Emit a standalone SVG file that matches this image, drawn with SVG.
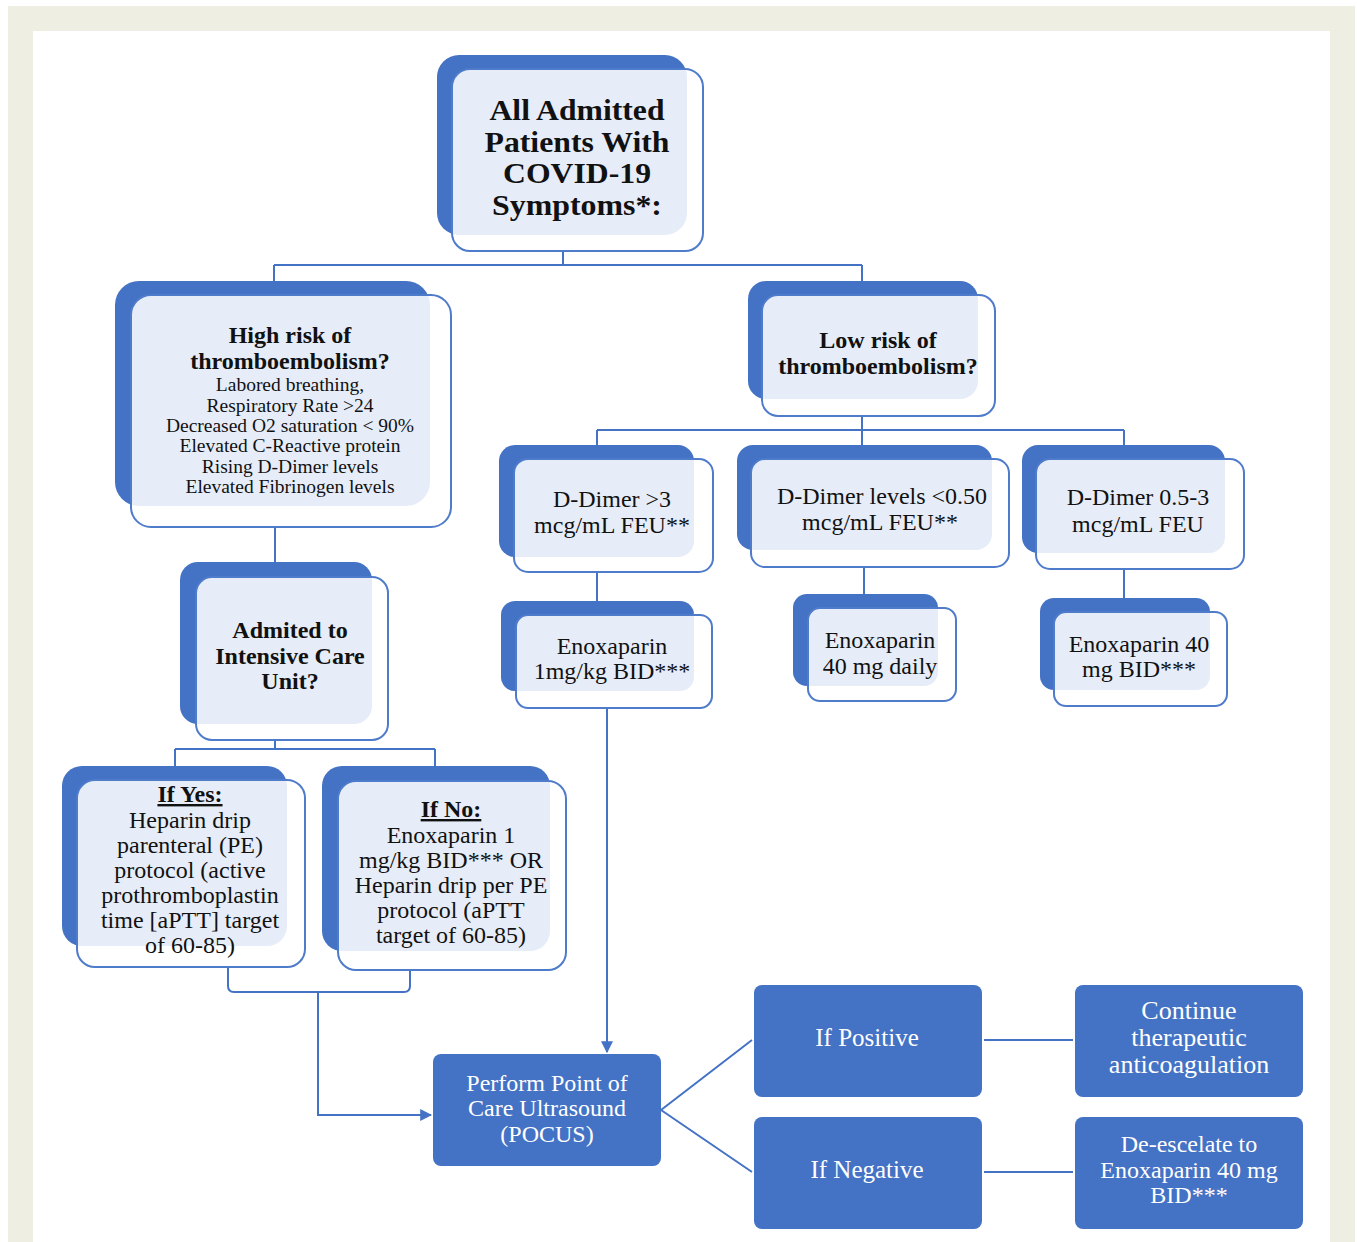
<svg xmlns="http://www.w3.org/2000/svg" width="1357" height="1242" viewBox="0 0 1357 1242">
<style>
.back{fill:#4472C4}
.front{fill:#ffffff;fill-opacity:0.87;stroke:#4F7BCB;stroke-width:2}
.t{font-family:"Liberation Serif","Times New Roman",serif;fill:#111;text-anchor:middle}
.b{font-weight:bold}
.w{fill:#ffffff}
.solid{fill:#4472C4}
.c{fill:none;stroke:#4472C4;stroke-width:2}
</style>
<defs>
<marker id="arr" viewBox="0 0 10 10" refX="9" refY="5" markerWidth="6" markerHeight="6" orient="auto" markerUnits="strokeWidth">
<path d="M0,0 L10,5 L0,10 z" fill="#4472C4"/>
</marker>
</defs>
<rect x="0" y="0" width="1357" height="1242" fill="#ffffff"/>
<rect x="8" y="6" width="1347" height="1236" fill="#EEEEE2"/>
<rect x="33" y="31" width="1297" height="1211" fill="#ffffff"/>

<g id="connectors">
<path class="c" d="M563,251 V265 M274,265 H862 M274,265 V281 M862,265 V295"/>
<path class="c" d="M862,416 V430 M597,430 H1124 M597,430 V459 M1124,430 V459 M862,430 V459"/>
<path class="c" d="M597,572 V615 M864,567 V608 M1124,569 V612"/>
<path class="c" d="M275,527 V577"/>
<path class="c" d="M275,740 V749 M175,749 H435 M175,749 V780 M435,749 V781"/>
<path class="c" marker-end="url(#arr)" d="M607,708 V1052"/>
<path class="c" d="M228,967 V986 Q228,992 234,992 H404 Q410,992 410,986 V970"/>
<path class="c" marker-end="url(#arr)" d="M318,992 V1115 H431"/>
<path class="c" d="M661,1110 L752,1040 M661,1110 L752,1172"/>
<path class="c" d="M984,1040 H1073 M984,1172 H1073"/>
</g>

<g id="n-all">
<rect class="back" x="437" y="55" width="250" height="180" rx="22"/>
<rect class="front" x="452" y="69" width="251" height="182" rx="18"/>
<text class="t b" font-size="28.5" x="577" y="120" textLength="175" lengthAdjust="spacingAndGlyphs">All Admitted</text>
<text class="t b" font-size="28.5" x="577" y="152" textLength="185" lengthAdjust="spacingAndGlyphs">Patients With</text>
<text class="t b" font-size="28.5" x="577" y="183" textLength="148" lengthAdjust="spacingAndGlyphs">COVID-19</text>
<text class="t b" font-size="28.5" x="577" y="215" textLength="170" lengthAdjust="spacingAndGlyphs">Symptoms*:</text>
</g>

<g id="n-high">
<rect class="back" x="115" y="281" width="315" height="225" rx="24"/>
<rect class="front" x="131" y="295" width="320" height="232" rx="20"/>
<text class="t b" font-size="24" x="290" y="343">High risk of</text>
<text class="t b" font-size="24" x="290" y="369">thromboembolism?</text>
<text class="t" font-size="19.5" x="290" y="391">Labored breathing,</text>
<text class="t" font-size="19.5" x="290" y="412">Respiratory Rate &gt;24</text>
<text class="t" font-size="19.5" x="290" y="432">Decreased O2 saturation &lt; 90%</text>
<text class="t" font-size="19.5" x="290" y="452">Elevated C-Reactive protein</text>
<text class="t" font-size="19.5" x="290" y="473">Rising D-Dimer levels</text>
<text class="t" font-size="19.5" x="290" y="493">Elevated Fibrinogen levels</text>
</g>

<g id="n-low">
<rect class="back" x="748" y="281" width="230" height="118" rx="18"/>
<rect class="front" x="762" y="295" width="233" height="121" rx="16"/>
<text class="t b" font-size="24" x="878" y="348">Low risk of</text>
<text class="t b" font-size="24" x="878" y="374">thromboembolism?</text>
</g>

<g id="n-dd3">
<rect class="back" x="499" y="445" width="195" height="112" rx="16"/>
<rect class="front" x="514" y="459" width="199" height="113" rx="14"/>
<text class="t" font-size="24" x="612" y="507">D-Dimer &gt;3</text>
<text class="t" font-size="24" x="612" y="533">mcg/mL FEU**</text>
</g>

<g id="n-dd050">
<rect class="back" x="737" y="445" width="255" height="105" rx="16"/>
<rect class="front" x="751" y="459" width="258" height="108" rx="14"/>
<text class="t" font-size="24" x="882" y="504">D-Dimer levels &lt;0.50</text>
<text class="t" font-size="24" x="880" y="530">mcg/mL FEU**</text>
</g>

<g id="n-dd053">
<rect class="back" x="1022" y="445" width="203" height="108" rx="16"/>
<rect class="front" x="1036" y="459" width="208" height="110" rx="14"/>
<text class="t" font-size="24" x="1138" y="505">D-Dimer 0.5-3</text>
<text class="t" font-size="24" x="1138" y="532">mcg/mL FEU</text>
</g>

<g id="n-enox1">
<rect class="back" x="501" y="601" width="193" height="90" rx="14"/>
<rect class="front" x="516" y="615" width="196" height="93" rx="12"/>
<text class="t" font-size="24" x="612" y="654">Enoxaparin</text>
<text class="t" font-size="24" x="612" y="679">1mg/kg BID***</text>
</g>

<g id="n-enox40d">
<rect class="back" x="793" y="594" width="145" height="92" rx="14"/>
<rect class="front" x="808" y="608" width="148" height="93" rx="12"/>
<text class="t" font-size="24" x="880" y="648">Enoxaparin</text>
<text class="t" font-size="24" x="880" y="674">40 mg daily</text>
</g>

<g id="n-enox40b">
<rect class="back" x="1040" y="598" width="170" height="92" rx="14"/>
<rect class="front" x="1054" y="612" width="173" height="94" rx="12"/>
<text class="t" font-size="24" x="1139" y="652">Enoxaparin 40</text>
<text class="t" font-size="24" x="1139" y="677">mg BID***</text>
</g>

<g id="n-icu">
<rect class="back" x="180" y="562" width="192" height="162" rx="18"/>
<rect class="front" x="196" y="577" width="192" height="163" rx="16"/>
<text class="t b" font-size="24" x="290" y="638">Admited to</text>
<text class="t b" font-size="24" x="290" y="664">Intensive Care</text>
<text class="t b" font-size="24" x="290" y="689">Unit?</text>
</g>

<g id="n-yes">
<rect class="back" x="62" y="766" width="225" height="180" rx="20"/>
<rect class="front" x="77" y="780" width="228" height="187" rx="18"/>
<text class="t b" font-size="24" x="190" y="802" text-decoration="underline">If Yes:</text>
<text class="t" font-size="24" x="190" y="828">Heparin drip</text>
<text class="t" font-size="24" x="190" y="853">parenteral (PE)</text>
<text class="t" font-size="24" x="190" y="878">protocol (active</text>
<text class="t" font-size="24" x="190" y="903">prothromboplastin</text>
<text class="t" font-size="24" x="190" y="928">time [aPTT] target</text>
<text class="t" font-size="24" x="190" y="953">of 60-85)</text>
</g>

<g id="n-no">
<rect class="back" x="322" y="766" width="228" height="185" rx="20"/>
<rect class="front" x="338" y="781" width="228" height="189" rx="18"/>
<text class="t b" font-size="24" x="451" y="817" text-decoration="underline">If No:</text>
<text class="t" font-size="24" x="451" y="843">Enoxaparin 1</text>
<text class="t" font-size="24" x="451" y="868">mg/kg BID*** OR</text>
<text class="t" font-size="24" x="451" y="893">Heparin drip per PE</text>
<text class="t" font-size="24" x="451" y="918">protocol (aPTT</text>
<text class="t" font-size="24" x="451" y="943">target of 60-85)</text>
</g>

<g id="n-pocus">
<rect class="solid" x="433" y="1054" width="228" height="112" rx="8"/>
<text class="t w" font-size="24" x="547" y="1091">Perform Point of</text>
<text class="t w" font-size="24" x="547" y="1116">Care Ultrasound</text>
<text class="t w" font-size="24" x="547" y="1142">(POCUS)</text>
</g>

<g id="n-pos">
<rect class="solid" x="754" y="985" width="228" height="112" rx="8"/>
<text class="t w" font-size="25" x="867" y="1046">If Positive</text>
</g>

<g id="n-neg">
<rect class="solid" x="754" y="1117" width="228" height="112" rx="8"/>
<text class="t w" font-size="25" x="867" y="1178">If Negative</text>
</g>

<g id="n-continue">
<rect class="solid" x="1075" y="985" width="228" height="112" rx="8"/>
<text class="t w" font-size="26" x="1189" y="1019">Continue</text>
<text class="t w" font-size="26" x="1189" y="1046">therapeutic</text>
<text class="t w" font-size="26" x="1189" y="1073">anticoagulation</text>
</g>

<g id="n-deesc">
<rect class="solid" x="1075" y="1117" width="228" height="112" rx="8"/>
<text class="t w" font-size="24" x="1189" y="1152">De-escelate to</text>
<text class="t w" font-size="24" x="1189" y="1178">Enoxaparin 40 mg</text>
<text class="t w" font-size="24" x="1189" y="1203">BID***</text>
</g>
</svg>
